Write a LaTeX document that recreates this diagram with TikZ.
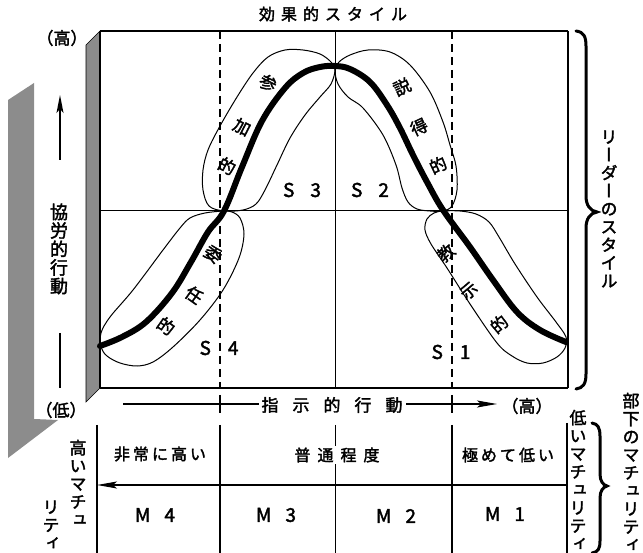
\documentclass[tikz,border=0pt]{standalone}
\usepackage{fontspec}
\newfontfamily\jp[FakeBold=2]{Noto Sans CJK JP}
\newfontfamily\jpv[RawFeature=+vert, FakeBold=2]{Noto Sans CJK JP}
\usetikzlibrary{arrows.meta}
\tikzset{
  frame/.style={line width=1.2pt},
  midline/.style={line width=0.9pt},
  guideline/.style={line width=1.3pt, dash pattern=on 8pt off 5pt},
  balloon/.style={line width=1pt},
  bell/.style={line width=6pt, line cap=round, line join=round},
  wallfill/.style={fill=black!45},
  tblline/.style={line width=2pt},
  brc/.style={line width=3pt, line cap=round},
  arr/.style={-{Stealth[length=20pt,width=7pt,inset=4pt]}},
  htext/.style={font=\jp\fontsize{16}{18}\selectfont, inner sep=0pt},
  vtext/.style={font=\jpv\fontsize{17}{18}\selectfont, inner sep=0pt, align=center},
  ltext/.style={font=\jp\fontsize{17}{18}\selectfont, inner sep=0pt},
  lab/.style={font=\jp\fontsize{19}{22}\selectfont, inner sep=0pt},
}
\newcommand\ks{\kern 6pt}
\begin{document}
\begin{tikzpicture}[x=1pt,y=-1pt]
\useasboundingbox (0,0) rectangle (643,553);

% shaded walls
\fill[wallfill] (8,100) -- (34,83) -- (34,419) -- (58,420) -- (8,458) -- cycle;
\filldraw[wallfill, draw=black, line width=0.6pt] (86,45) -- (100,31) -- (100,388) -- (86,402) -- cycle;

% main frame
\coordinate (TL) at (100,31);
\coordinate (TR) at (568,31);
\coordinate (BR) at (568,388);
\coordinate (BL) at (100,388);
\draw[frame] (TL) -- (TR);
\draw[line width=2.4pt] (TR) -- (BR);
\draw[line width=1.8pt] (BL) -- (BR);
\draw[line width=2.6pt] (TL) -- (BL);

% quadrant lines
\coordinate (MT) at (335,31);
\coordinate (MB) at (335,388);
\coordinate (ML) at (100,210);
\coordinate (MR) at (568,210);
\draw[midline] (MT) -- (MB);
\draw[midline] (ML) -- (MR);

% dashed guides
\coordinate (G1T) at (220,31);
\coordinate (G1B) at (220,388);
\coordinate (G2T) at (452,31);
\coordinate (G2B) at (452,388);
\draw[guideline] (G1T) -- (G1B);
\draw[guideline] (G2T) -- (G2B);

% balloons
\draw[balloon] plot[smooth cycle, tension=0.55] coordinates {
 (224,211) (209,206) (203,190) (203,170) (208,150) (220,126) (237,97) (253,73)
 (268,57) (285,50) (303,50) (320,54) (331,62) (335,70) (331,84) (320,97)
 (305,115) (290,138) (277,165) (265,190) (256,204) (243,210)};
\draw[balloon] plot[smooth cycle, tension=0.55] coordinates {
 (443,211) (452,206) (457,190) (456,166) (450,145) (443,122) (430,92) (410,65)
 (390,52) (368,50) (350,55) (339,62) (335,70) (338,84) (348,97) (363,108)
 (383,135) (396,165) (402,188) (408,202) (417,209) (430,211)};
\draw[balloon] plot[smooth cycle, tension=0.55] coordinates {
 (443,211) (460,211) (476,214) (489,222) (499,237) (515,264) (537,297) (556,322)
 (566,337) (565,348) (557,357) (543,363) (527,363) (512,356) (497,343) (470,304)
 (447,268) (431,244) (425,230) (427,219) (434,213)};
\draw[balloon] plot[smooth cycle, tension=0.55] coordinates {
 (224,211) (205,213) (190,218) (180,228) (163,250) (133,290) (110,317) (101,333)
 (101,347) (107,356) (120,363) (137,366) (153,362) (173,347) (200,320) (223,290)
 (239,258) (244,234) (240,218) (232,212)};

% bell curve
\draw[bell] plot[smooth, tension=0.6] coordinates {
 (100,346) (122,337) (146,322) (172,293) (191,262) (208,232) (224,211) (242,167)
 (262,121) (285,88) (303,73) (320,67) (335,66) (350,69) (370,82) (387,105)
 (400,128) (413,155) (427,182) (443,210) (470,247) (493,280) (517,312) (540,330) (566,342)};

% balloon labels
\node[ltext, rotate=-27] (s3a) at (268,83) {参};
\node[ltext, rotate=-27] (s3b) at (242,127) {加};
\node[ltext, rotate=-27] (s3c) at (227,166) {的};
\node[ltext, rotate=25] (s2a) at (402,87) {説};
\node[ltext, rotate=25] (s2b) at (419,127) {得};
\node[ltext, rotate=25] (s2c) at (438,165) {的};
\node[ltext, rotate=40] (s1a) at (446,253) {教};
\node[ltext, rotate=40] (s1b) at (469,291) {示};
\node[ltext, rotate=40] (s1c) at (499,324) {的};
\node[ltext, rotate=-35] (s4a) at (213,254) {委};
\node[ltext, rotate=-35] (s4b) at (194,295) {任};
\node[ltext, rotate=-35] (s4c) at (166,326) {的};

% S labels
\node[lab] (S3) at (302,190) {S\kern16pt 3};
\node[lab] (S2) at (370,190) {S\kern16pt 2};
\node[lab] (S4) at (219,348) {S\kern17pt 4};
\node[lab] (S1) at (451,352) {S\kern17pt 1};

% title
\node[htext] (title) at (333,14) {効\ks 果\ks 的\ks ス\ks タ\ks イ\ks ル};

% left axis
\node[htext, font=\jp\fontsize{17}{18}\selectfont] (hiL) at (62,38) {（高）};
\node[htext, font=\jp\fontsize{17}{18}\selectfont] (loL) at (61,410) {（低）};
\coordinate (LA0) at (60,160);
\coordinate (LA1) at (60,95);
\draw[line width=1.4pt, -{Stealth[length=18pt,width=7pt,inset=4pt]}] (LA0) -- (LA1);
\coordinate (LB0) at (60,333);
\coordinate (LB1) at (60,388);
\draw[line width=1.4pt] (LB0) -- (LB1);
\node[vtext, font=\jpv\fontsize{18}{18.5}\selectfont] (yaxis) at (59,249) {協\\労\\的\\行\\動};

% right brace and text
\draw[brc] (576,31) .. controls (584,32) and (586,37) .. (586,46) -- (586,196)
  .. controls (586,205) and (590,211) .. (597,212)
  .. controls (590,213) and (586,219) .. (586,228) -- (586,374)
  .. controls (586,384) and (583,388) .. (576,389);
\node[vtext] (leader) at (609,209) {リ\\ー\\ダ\\ー\\の\\ス\\タ\\イ\\ル};

% bottom axis
\coordinate (AX0) at (123,404);
\coordinate (AX1) at (497,404);
\draw[line width=1.1pt, arr] (AX0) -- (AX1);
\draw[line width=1.5pt] (220,395) -- (220,413);
\draw[line width=1.5pt] (452,395) -- (452,413);
\node[htext, fill=white, inner xsep=3pt, inner ysep=1pt, font=\jp\fontsize{17}{18}\selectfont] (xaxis) at (332,405) {指\kern14pt 示\kern14pt 的\kern14pt 行\kern14pt 動};
\node[htext, font=\jp\fontsize{17}{18}\selectfont] (hiR) at (527,406) {（高）};

% table
\draw[tblline] (97,425) -- (97,553);
\draw[tblline] (220,425) -- (220,553);
\draw[midline] (335,425) -- (335,553);
\draw[tblline] (452,425) -- (452,553);
\draw[tblline] (567,423) -- (567,553);
\coordinate (TA0) at (567,485);
\coordinate (TA1) at (97,485);
\draw[line width=1.3pt, arr] (TA0) -- (TA1);
\node[htext] (r1a) at (160,454) {非\kern3pt 常\kern3pt に\kern3pt 高\kern3pt い};
\node[htext, fill=white, inner xsep=2pt, inner ysep=2pt] (r1b) at (337,455) {普\kern7pt 通\kern7pt 程\kern7pt 度};
\node[htext] (r1c) at (508,455) {極\kern3pt め\kern3pt て\kern3pt 低\kern3pt い};
\node[lab] (M4) at (155,515) {M\kern14pt 4};
\node[lab] (M3) at (276,515) {M\kern14pt 3};
\node[lab] (M2) at (396,516) {M\kern14pt 2};
\node[lab] (M1) at (505,514) {M\kern14pt 1};

% table side texts
\node[vtext] (hiM1) at (78,483) {高\\い\\マ\\チ\\ュ};
\node[vtext] (hiM2) at (51,525) {リ\\テ\\ィ};
\node[vtext] (loM) at (578,480) {低\\い\\マ\\チ\\ュ\\リ\\テ\\ィ};
\draw[brc] (592,423) .. controls (598,424) and (600,428) .. (600,436) -- (600,474)
  .. controls (600,481) and (603,485) .. (607,486)
  .. controls (603,487) and (600,491) .. (600,498) -- (600,541)
  .. controls (600,549) and (598,552) .. (592,553);
\node[vtext] (sub) at (631,472) {部\\下\\の\\マ\\チ\\ュ\\リ\\テ\\ィ};
\end{tikzpicture}
\end{document}
